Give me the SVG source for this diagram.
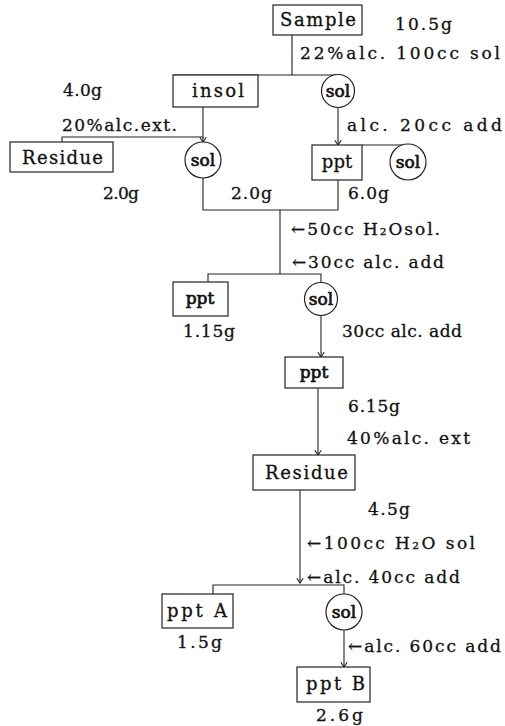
<svg xmlns="http://www.w3.org/2000/svg" width="505" height="726" viewBox="0 0 505 726">
<defs>
<marker id="ah" viewBox="0 0 10 10" refX="5" refY="9" markerWidth="8" markerHeight="8" markerUnits="userSpaceOnUse" orient="0">
<path d="M1,3 L5,9 L9,3" fill="none" stroke="#222" stroke-width="1.4"/>
</marker>
</defs>
<style>
text{font-family:"DejaVu Serif","Liberation Serif",serif;font-size:17px;fill:#111;stroke:#111;stroke-width:0.3}
.b{font-size:18px}
.s{font-size:17px;stroke-width:0.7}
.n rect,.n circle{fill:#fff;stroke:#222;stroke-width:1.2}
#connectors path{fill:none;stroke:#222;stroke-width:1.1}
.ar{marker-end:url(#ah)}
</style>
<rect width="505" height="726" fill="#fff"/>
<g id="connectors">
<path d="M292,35 V75 M173,75 H338"/>
<path class="ar" d="M203,107 V142"/>
<path d="M62,142 V137 H203"/>
<path class="ar" d="M338,107 V145"/>
<path d="M362,145 H402"/>
<path d="M203,178 V210 H338 V180"/>
<path d="M280,210 V274 M208,282 V274 H321 V283"/>
<path class="ar" d="M321,315 V357"/>
<path class="ar" d="M318,388 V455"/>
<path class="ar" d="M300,490 V583"/>
<path d="M213,594 V585 H344 V594"/>
<path class="ar" d="M344,630 V667"/>
</g>
<g id="sample" class="n"><rect x="273" y="5" width="89" height="30"/><text class="b" x="280" y="26" textLength="76" lengthAdjust="spacing">Sample</text></g>
<g id="insol" class="n"><rect x="173" y="75" width="85" height="32"/><text class="b" x="192" y="97" textLength="52" lengthAdjust="spacing">insol</text></g>
<g id="sol1" class="n"><circle cx="338" cy="91" r="16.5"/><text class="s" x="338" y="97" text-anchor="middle">sol</text></g>
<g id="residue1" class="n"><rect x="10" y="142" width="103" height="30"/><text class="b" x="22" y="164" textLength="81" lengthAdjust="spacing">Residue</text></g>
<g id="sol2" class="n"><circle cx="203" cy="160" r="18"/><text class="s" x="203" y="166" text-anchor="middle">sol</text></g>
<g id="ppt1" class="n"><rect x="312" y="145" width="50" height="35"/><text class="b" x="337" y="168" text-anchor="middle">ppt</text></g>
<g id="sol3" class="n"><circle cx="408" cy="162" r="18"/><text class="s" x="408" y="168" text-anchor="middle">sol</text></g>
<g id="ppt2" class="n"><rect x="173" y="282" width="55" height="34"/><text class="b s" x="200" y="304" text-anchor="middle">ppt</text></g>
<g id="sol4" class="n"><circle cx="321" cy="299" r="16.5"/><text class="s" x="321" y="305" text-anchor="middle">sol</text></g>
<g id="ppt3" class="n"><rect x="285" y="357" width="58" height="31"/><text class="b s" x="314" y="378" text-anchor="middle">ppt</text></g>
<g id="residue2" class="n"><rect x="253" y="455" width="102" height="35"/><text class="b" x="265" y="479" textLength="83" lengthAdjust="spacing">Residue</text></g>
<g id="pptA" class="n"><rect x="162" y="594" width="71" height="34"/><text class="b" x="167" y="617" textLength="60" lengthAdjust="spacing">ppt A</text></g>
<g id="sol5" class="n"><circle cx="344" cy="612" r="18"/><text class="s" x="344" y="618" text-anchor="middle">sol</text></g>
<g id="pptB" class="n"><rect x="297" y="667" width="73" height="35"/><text class="b" x="306" y="690" textLength="59" lengthAdjust="spacing">ppt B</text></g>
<g id="labels">
<text x="395" y="30" textLength="57" lengthAdjust="spacing">10.5g</text>
<text x="300" y="59" textLength="200" lengthAdjust="spacing">22%alc. 100cc sol</text>
<text x="63" y="96" textLength="39" lengthAdjust="spacing">4.0g</text>
<text x="62" y="131" textLength="115" lengthAdjust="spacing">20%alc.ext.</text>
<text x="347" y="131" textLength="155" lengthAdjust="spacing">alc.  20cc  add</text>
<text x="103" y="199" textLength="36" lengthAdjust="spacing">2.0g</text>
<text x="231" y="199" textLength="41" lengthAdjust="spacing">2.0g</text>
<text x="348" y="199" textLength="41" lengthAdjust="spacing">6.0g</text>
<text x="291" y="235" textLength="149" lengthAdjust="spacing">←50cc H₂Osol.</text>
<text x="292" y="268" textLength="152" lengthAdjust="spacing">←30cc alc. add</text>
<text x="183" y="337" textLength="52" lengthAdjust="spacing">1.15g</text>
<text x="342" y="337" textLength="120" lengthAdjust="spacing">30cc alc. add</text>
<text x="348" y="412" textLength="52" lengthAdjust="spacing">6.15g</text>
<text x="347" y="444" textLength="123" lengthAdjust="spacing">40%alc. ext</text>
<text x="368" y="515" textLength="42" lengthAdjust="spacing">4.5g</text>
<text x="307" y="549" textLength="168" lengthAdjust="spacing">←100cc H₂O sol</text>
<text x="307" y="583" textLength="153" lengthAdjust="spacing">←alc. 40cc add</text>
<text x="177" y="648" textLength="45" lengthAdjust="spacing">1.5g</text>
<text x="348" y="652" textLength="153" lengthAdjust="spacing">←alc. 60cc add</text>
<text x="316" y="721" textLength="47" lengthAdjust="spacing">2.6g</text>
</g>
</svg>
